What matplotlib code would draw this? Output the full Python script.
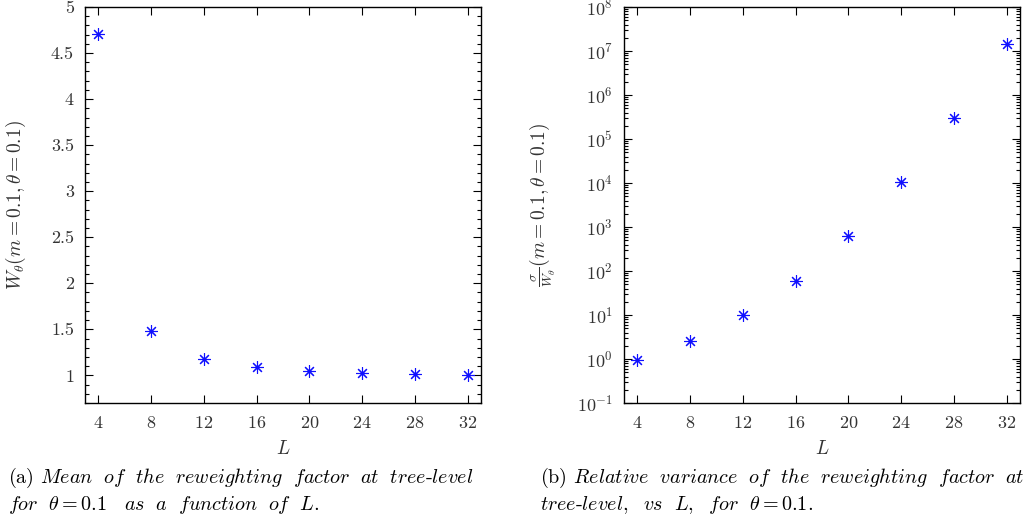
import matplotlib
matplotlib.use("Agg")
import matplotlib.pyplot as plt
from matplotlib.ticker import MultipleLocator, FuncFormatter, LogLocator, NullLocator, FixedLocator
import numpy as np

plt.rcParams['font.family'] = 'serif'
plt.rcParams['font.serif'] = ['cmr10']
plt.rcParams['mathtext.fontset'] = 'cm'
plt.rcParams['axes.formatter.use_mathtext'] = True
plt.rcParams['axes.unicode_minus'] = False

# data
L = [4, 8, 12, 16, 20, 24, 28, 32]
mean_w = [4.707, 1.482, 1.177, 1.087, 1.043, 1.025, 1.014, 1.007]
rel_var = [0.96, 2.6, 10.0, 60.0, 610.0, 1.07e4, 3.05e5, 1.44e7]

W, H = 1032, 524
fig = plt.figure(figsize=(W / 100, H / 100), dpi=100)

def box(l, t, r, b):
    return [l / W, 1 - b / H, (r - l) / W, (b - t) / H]

ax1 = fig.add_axes(box(85, 7, 481, 403))
ax2 = fig.add_axes(box(624, 7, 1020, 403))

star = dict(marker=(8, 2, 0), markersize=9, color='#1010ff', linestyle='none',
            markeredgewidth=0.8)

ax1.plot(L, mean_w, **star)
ax2.plot(L, rel_var, **star)
ax2.set_yscale('log')

ax1.set_ylim(0.7, 5)
ax1.yaxis.set_major_locator(MultipleLocator(0.5))
ax1.yaxis.set_minor_locator(MultipleLocator(0.1))
ax1.yaxis.set_major_formatter(FuncFormatter(lambda v, p: '%g' % v))

ax2.set_ylim(0.1, 1e8)
ax2.yaxis.set_major_locator(LogLocator(base=10, numticks=20))
ax2.yaxis.set_minor_locator(LogLocator(base=10, subs=np.arange(2, 10), numticks=100))

for ax in (ax1, ax2):
    ax.set_xlim(3, 33)
    ax.xaxis.set_major_locator(FixedLocator(L))
    ax.xaxis.set_minor_locator(NullLocator())
    ax.tick_params(which='both', direction='in', top=True, right=True,
                   labelsize=13, width=0.8, colors='black', labelcolor='#333333')
    ax.tick_params(which='major', length=6)
    ax.tick_params(which='minor', length=3)
    ax.tick_params(axis='x', pad=9)
    ax.tick_params(axis='y', pad=8)
    for s in ax.spines.values():
        s.set_linewidth(1.0)
    ax.set_xlabel(r'$L$', fontsize=14, color='#333333')
    ax.xaxis.set_label_coords(0.5, -0.093)

ax1.set_ylabel(r'$W_\theta(m=0.1,\theta=0.1)$', fontsize=14, color='#333333')
ax1.yaxis.set_label_coords(-0.144, 0.5)
ax2.set_ylabel(r'$\frac{\sigma}{W_\theta}(m=0.1,\theta=0.1)$', fontsize=14, color='#333333')
ax2.yaxis.set_label_coords(-0.167, 0.5)

cap = dict(fontsize=14.5, ha='left', va='baseline', color='black')
fig.text(8 / W, 1 - 483 / H,
         r'(a) $\mathit{Mean\ \ of\ \ the\ \ reweighting\ \ factor\ \ at\ \ tree}$-$\mathit{level}$', **cap)
fig.text(8 / W, 1 - 510 / H,
         r'$\mathit{for}\ \ \theta=0.1\ \ \ \mathit{as\ \ a\ \ function\ \ of}\ \ L.$', **cap)
fig.text(540 / W, 1 - 483 / H,
         r'(b) $\mathit{Relative\ \ variance\ \ of\ \ the\ \ reweighting\ \ factor\ \ at}$', **cap)
fig.text(540 / W, 1 - 510 / H,
         r'$\mathit{tree}$-$\mathit{level,\ \ vs}\ \ L,\ \ \mathit{for}\ \ \theta=0.1.$', **cap)

fig.savefig('out.png', dpi=100)
